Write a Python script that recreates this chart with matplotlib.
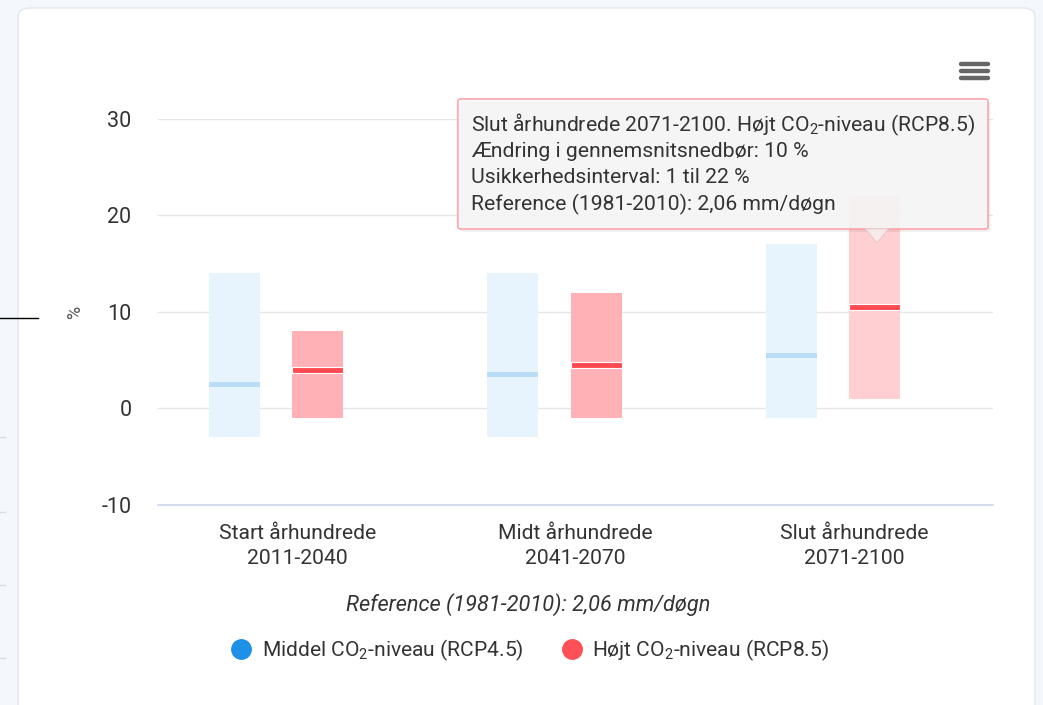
import matplotlib
matplotlib.use("Agg")
import matplotlib.pyplot as plt
import numpy as np
from matplotlib.patches import FancyBboxPatch, Polygon
from matplotlib.lines import Line2D

plt.rcParams['font.family'] = ['Roboto', 'DejaVu Sans']
plt.rcParams['mathtext.fontset'] = 'custom'
plt.rcParams['mathtext.rm'] = 'Roboto'
plt.rcParams['mathtext.it'] = 'Roboto:italic'
plt.rcParams['axes.unicode_minus'] = False

# data (change in mean precipitation, %)
categories = ['Start århundrede\n2011-2040', 'Midt århundrede\n2041-2070', 'Slut århundrede\n2071-2100']
rcp45_low = [-3, -3, -1]
rcp45_high = [14, 14, 17]
rcp45_mid = [2.5, 3.5, 5.5]
rcp85_low = [-1, -1, 1]
rcp85_high = [8, 12, 22]
rcp85_mid = [4, 4.5, 10.5]
y_ticks = [-10, 0, 10, 20, 30]

blue_fill = '#e8f4fd'
blue_mid = '#b9ddf6'
red_fill = ['#ffb1b6', '#ffb1b6', '#ffcfd2']
red_mid = '#ff4a52'

fig = plt.figure(figsize=(10.43, 7.05), dpi=100)
fig.patch.set_facecolor('#f4f8fc')

# white card behind the chart
card = FancyBboxPatch((18 / 1043, -0.05), (1035 - 18) / 1043, 1.05 - 8 / 705,
                      boxstyle="round,pad=0,rounding_size=0.012",
                      transform=fig.transFigure, facecolor='white',
                      edgecolor='#e6eaef', linewidth=1.2, zorder=-10)
fig.patches.append(card)

ax = fig.add_axes([158 / 1043, (705 - 505) / 705, 835 / 1043, 386 / 705])
ax.set_facecolor('none')
ax.set_zorder(1)

x = np.arange(len(categories))
w = 0.183
off_b = -0.225
off_r = 0.074

lo45 = np.array(rcp45_low)
hi45 = np.array(rcp45_high)
lo85 = np.array(rcp85_low)
hi85 = np.array(rcp85_high)

ax.bar(x + off_b, hi45 - lo45, bottom=lo45, width=w, color=blue_fill, zorder=2)
ax.bar(x + off_r, hi85 - lo85, bottom=lo85, width=w, color=red_fill, zorder=2)

th = 0.55
ax.bar(x + off_b, th, bottom=np.array(rcp45_mid) - th / 2, width=w,
       color=blue_mid, zorder=3)
ax.bar(x + off_r, th + 0.1, bottom=np.array(rcp85_mid) - th / 2 - 0.05, width=w,
       color=red_mid, edgecolor='white', linewidth=0.8, zorder=3)

ax.set_xlim(-0.5, 2.5)
ax.set_ylim(-10, 30)
ax.set_yticks(y_ticks)
ax.set_xticks(x)
ax.set_xticklabels(categories, fontsize=15.2, color='#333333', linespacing=1.4)
ax.tick_params(axis='y', length=0, pad=19, labelsize=15.5, labelcolor='#333333')
ax.tick_params(axis='x', length=0, pad=13.5)
ax.grid(axis='y', color='#e6e6e6', linewidth=1, zorder=0)
for s in ['top', 'right', 'left']:
    ax.spines[s].set_visible(False)
ax.spines['bottom'].set_color('#ccd6eb')
ax.spines['bottom'].set_linewidth(1.2)
ax.set_ylabel('%', fontsize=13, color='#555555')
ax.yaxis.set_label_coords(-0.088, 0.5)

# tooltip
shadow = FancyBboxPatch((0.362, 0.708), 0.635, 0.337,
                        boxstyle="round,pad=0,rounding_size=0.005",
                        transform=ax.transAxes, facecolor='#000000', alpha=0.07,
                        edgecolor='none', zorder=4, clip_on=False)
ax.add_patch(shadow)
tip = FancyBboxPatch((0.359, 0.715), 0.635, 0.337,
                     boxstyle="round,pad=0,rounding_size=0.005",
                     transform=ax.transAxes, facecolor='#f7f7f7', alpha=0.9,
                     edgecolor='#ff9ea3', linewidth=1.2, zorder=5, clip_on=False)
ax.add_patch(tip)
ptr = Polygon([[0.847, 0.716], [0.861, 0.679], [0.875, 0.716]], closed=True,
              transform=ax.transAxes, facecolor='#f5eeee', alpha=0.9,
              edgecolor='#e9c9cb', linewidth=0.8, zorder=5, clip_on=False)
ax.add_patch(ptr)
tip_lines = ['Slut århundrede 2071-2100. Højt CO$_2$-niveau (RCP8.5)',
             'Ændring i gennemsnitsnedbør: 10 %',
             'Usikkerhedsinterval: 1 til 22 %',
             'Reference (1981-2010): 2,06 mm/døgn']
for i, t in enumerate(tip_lines):
    ax.text(0.375, 0.985 - i * 0.0685, t, transform=ax.transAxes, fontsize=15.2,
            color='#333333', va='center', ha='left', zorder=6)

# caption and legend
fig.text(0.506, (705 - 605) / 705, 'Reference (1981-2010): 2,06 mm/døgn',
         ha='center', va='center', fontsize=15.7, style='italic', color='#333333')
handles = [Line2D([], [], marker='o', linestyle='', markersize=14, color='#1e90e8'),
           Line2D([], [], marker='o', linestyle='', markersize=14, color='#ff4f57')]
fig.legend(handles, ['Middel CO$_2$-niveau (RCP4.5)', 'Højt CO$_2$-niveau (RCP8.5)'],
           loc='center', bbox_to_anchor=(0.506, (705 - 650) / 705), ncol=2,
           frameon=False, fontsize=15.1, handletextpad=0.3, columnspacing=1.6,
           handlelength=1.4, labelcolor='#333333')

# menu icon
for yy in [64, 71, 78]:
    fig.add_artist(Line2D([961 / 1043, 988 / 1043], [(705 - yy) / 705] * 2,
                          color='#666666', linewidth=3.2, solid_capstyle='round'))

# bits of the page behind the card
fig.add_artist(Line2D([0, 38 / 1043], [(705 - 318) / 705] * 2, color='black', linewidth=1))
for yy in [437, 512, 585, 658]:
    fig.add_artist(Line2D([0, 5 / 1043], [(705 - yy) / 705] * 2, color='#d8dde3', linewidth=1))

fig.savefig('out.png', dpi=100, facecolor=fig.get_facecolor())
